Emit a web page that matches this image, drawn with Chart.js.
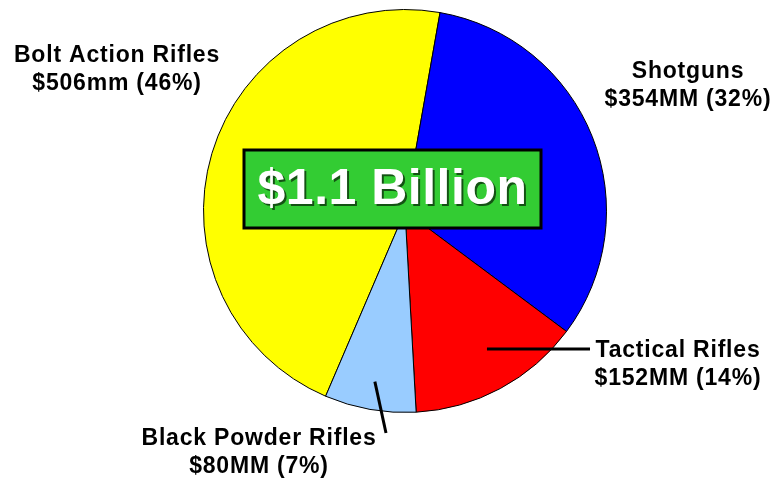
<!DOCTYPE html>
<html>
<head>
<meta charset="utf-8">
<script src="https://cdn.jsdelivr.net/npm/chart.js@4.4.1/dist/chart.umd.min.js"></script>
<style>
  html, body { margin: 0; padding: 0; background: #fff; }
  #wrap { width: 775px; height: 484px; }
</style>
</head>
<body>
<div id="wrap"><canvas id="marketPie" width="775" height="484"></canvas></div>
<script>
// Rifle / shotgun market split, $ millions
const categories = ['Bolt Action Rifles', 'Shotguns', 'Tactical Rifles', 'Black Powder Rifles'];
const values = [506, 354, 152, 80];
const units = ['mm', 'MM', 'MM', 'MM'];
const sliceColors = ['#ffff00', '#0000ff', '#ff0000', '#99ccff'];
const totalLabel = '$1.1 Billion';

const total = values.reduce((a, b) => a + b, 0);
const valueLabels = values.map((v, i) => '$' + v + units[i] + ' (' + Math.round(v / total * 100) + '%)');

// where each label sits: centre x, first baseline y, optional leader end point
// flat: leader stays level with its label end
const labelSpots = [
  { x: 117, y: 62 },
  { x: 688, y: 78 },
  { x: 678, y: 357, lead: [590, 349], flat: true },
  { x: 259, y: 445, lead: [386, 433] }
];

const overlay = {
  id: 'overlay',
  afterDraw(chart) {
    const ctx = chart.ctx;
    const arcs = chart.getDatasetMeta(0).data;
    ctx.save();

    // leader lines from inside the slice out to its label
    ctx.strokeStyle = '#000';
    ctx.lineWidth = 3;
    labelSpots.forEach((s, i) => {
      if (!s.lead) return;
      const a = arcs[i].getProps(['x', 'y', 'startAngle', 'endAngle', 'outerRadius'], true);
      const mid = (a.startAngle + a.endAngle) / 2;
      const r = a.outerRadius * 0.86;
      const px = a.x + Math.cos(mid) * r;
      const py = s.flat ? s.lead[1] : a.y + Math.sin(mid) * r;
      ctx.beginPath();
      ctx.moveTo(px, py);
      ctx.lineTo(s.lead[0], s.lead[1]);
      ctx.stroke();
    });

    // category labels
    ctx.fillStyle = '#000';
    ctx.font = 'bold 23px "Liberation Sans", Arial, sans-serif';
    ctx.letterSpacing = '0.8px';
    ctx.textAlign = 'center';
    ctx.textBaseline = 'alphabetic';
    labelSpots.forEach((s, i) => {
      ctx.fillText(categories[i], s.x, s.y);
      ctx.fillText(valueLabels[i], s.x, s.y + 28);
    });

    // total box in the middle
    const bx = 244, by = 150, bw = 297, bh = 78;
    ctx.fillStyle = '#33cc33';
    ctx.fillRect(bx, by, bw, bh);
    ctx.lineWidth = 3;
    ctx.strokeStyle = '#000';
    ctx.strokeRect(bx, by, bw, bh);

    ctx.letterSpacing = '0.5px';
    ctx.font = 'bold 50px "Liberation Sans", Arial, sans-serif';
    ctx.textBaseline = 'middle';
    ctx.fillStyle = '#145214';
    ctx.fillText(totalLabel, bx + bw / 2 + 2, by + bh / 2 + 3);
    ctx.fillStyle = '#fff';
    ctx.fillText(totalLabel, bx + bw / 2, by + bh / 2 + 1);
    ctx.restore();
  }
};

new Chart(document.getElementById('marketPie').getContext('2d'), {
  type: 'pie',
  data: {
    labels: categories,
    datasets: [{
      data: values,
      backgroundColor: sliceColors,
      borderColor: '#000',
      borderWidth: 1
    }]
  },
  options: {
    responsive: false,
    animation: false,
    rotation: 10 - 166.8,
    layout: { padding: { top: 9, bottom: 71, left: 203, right: 168 } },
    plugins: {
      legend: { display: false },
      title: { display: false },
      tooltip: { enabled: false }
    }
  },
  plugins: [overlay]
});
</script>
</body>
</html>
